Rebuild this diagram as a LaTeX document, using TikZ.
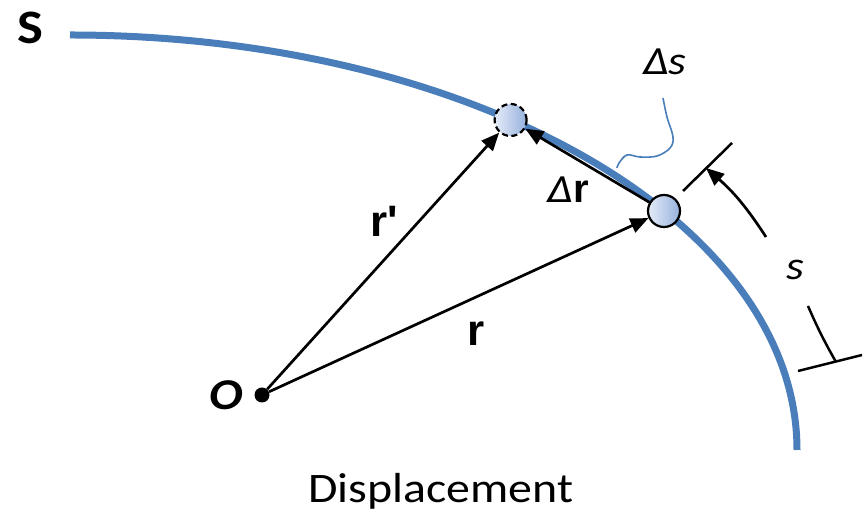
\documentclass[tikz,border=0pt]{standalone}
\usepackage{fontspec}
\setmainfont{Carlito}[FakeStretch=1.14]
\newfontfamily\arialfont{Liberation Sans}
\usetikzlibrary{arrows.meta}
\definecolor{curveblue}{RGB}{74,126,187}
\definecolor{ballL}{RGB}{228,235,247}
\definecolor{ballR}{RGB}{150,178,222}
\newcommand{\fs}[1]{\fontsize{#1}{#1}\selectfont}
\begin{document}
\begin{tikzpicture}[x=1pt,y=1pt,
  vec/.style={line width=2.7pt, -{Triangle[length=18pt,width=15pt]}},
  ball/.style={circle, minimum size=32pt, inner sep=0pt, draw=black, line width=2.2pt, left color=ballL, right color=ballR},
  dimline/.style={line width=2.5pt},
  lbl/.style={inner sep=0pt}]
\useasboundingbox (0,0) rectangle (865,513);
% path S
\draw[curveblue, line width=7pt] (70,478) arc[start angle=90, end angle=0, x radius=727, y radius=415];
% particle positions
\node[ball] (P) at (664,302) {};
\node[ball, dash pattern=on 6pt off 3.5pt] (Q) at (510.6,393) {};
\node[circle, fill=black, minimum size=15pt, inner sep=0pt] (O) at (262,118) {};
% vectors
\draw[vec] (O) -- (P);
\draw[vec] (O) -- (Q);
\draw[vec] (P) -- (Q);
% delta s leader
\draw[curveblue, line width=1.6pt] plot[smooth, tension=0.6] coordinates {(663,415) (667,396) (673,376) (670,365) (657,357) (640,356) (627,358) (619,350) (617,345)};
% s dimension
\coordinate (t1a) at (683,322);
\coordinate (t1b) at (732,370);
\coordinate (t2a) at (798,142);
\coordinate (t2b) at (862,158);
\coordinate (sA) at (766,276);
\coordinate (sB) at (706,345);
\coordinate (sC) at (808,207);
\coordinate (sD) at (836,151);
\draw[dimline] (t1a) -- (t1b);
\draw[dimline] (t2a) -- (t2b);
\draw[vec] (sA) to[bend right=8] (sB);
\draw[dimline] (sC) to[bend right=3] (sD);
% labels
\node[lbl] (lS) at (30,485) {\fs{48}\bfseries S};
\node[lbl] (lO) at (226,118) {\fs{44}\bfseries\itshape O};
\node[lbl] (lrp) at (384,292) {\arialfont\fs{44}\bfseries r'};
\node[lbl] (lr) at (476,179) {\arialfont\fs{44}\bfseries r};
\node[lbl] (ldr) at (568,323) {\fs{40}\itshape Δ\arialfont\upshape\bfseries r};
\node[lbl] (lds) at (665,451) {\fs{40}\itshape Δs};
\node[lbl] (ls) at (795,243) {\fs{40}\itshape s};
\node[lbl] (cap) at (441,22) {\fs{42}Displacement};
\end{tikzpicture}
\end{document}
